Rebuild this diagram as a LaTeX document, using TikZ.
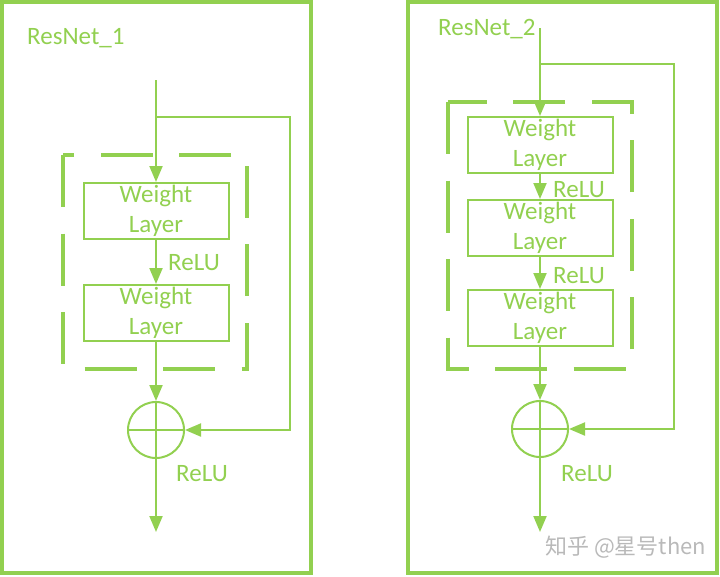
\documentclass[tikz,border=0pt]{standalone}
\usepackage{fontspec}
\setmainfont{Carlito}
\newfontfamily\cjkfont{Noto Sans CJK SC}
\usetikzlibrary{arrows.meta}
\definecolor{netgreen}{RGB}{146,208,80}

\begin{document}
\begin{tikzpicture}[x=1pt,y=-1pt,
  every node/.style={text=netgreen,font=\fontsize{25}{30}\selectfont}]
  \useasboundingbox (0,0) rectangle (720,576);

  \tikzstyle{FrameStyle}=[draw=netgreen,line width=3.5pt]
  \tikzstyle{GroupStyle}=[draw=netgreen,line width=3.5pt,dash pattern=on 52pt off 26.5pt]
  \tikzstyle{LayerStyle}=[draw=netgreen,line width=2pt,minimum width=145pt,
                          minimum height=56pt,inner sep=0pt,align=center]
  \tikzstyle{SumStyle}=[circle,draw=netgreen,line width=2pt,minimum size=56pt,inner sep=0pt]
  \tikzstyle{EdgeStyle}=[draw=netgreen,line width=2pt,-{Triangle[length=16pt,width=13pt]}]
  \tikzstyle{CrossStyle}=[draw=netgreen,line width=1.5pt]
  \tikzstyle{LabelStyle}=[anchor=base west,inner sep=0pt]

  \draw[FrameStyle] (2,2) rectangle (311,573);
  \draw[FrameStyle] (408,2) rectangle (717,573);

  \node[LabelStyle] (title1) at (27,44) {ResNet\_1};
  \node[LabelStyle] (title2) at (438,35) {ResNet\_2};

  \draw[GroupStyle] (63,155) -- (63,369) -- (247,369) -- (247,155) -- cycle;
  \draw[GroupStyle] (448,102) -- (448,369) -- (632,369) -- (632,102) -- cycle;

  \node[LayerStyle] (w11) at (156,211) {Weight\\Layer};
  \node[LayerStyle] (w12) at (156,313) {Weight\\Layer};
  \node[SumStyle] (s1) at (156,430) {};

  \node[LayerStyle] (w21) at (540,145) {Weight\\Layer};
  \node[LayerStyle] (w22) at (540,228) {Weight\\Layer};
  \node[LayerStyle] (w23) at (540,318) {Weight\\Layer};
  \node[SumStyle] (s2) at (540,429) {};

  \draw[CrossStyle] (s1.north) -- (s1.south) (s1.west) -- (s1.east);
  \draw[CrossStyle] (s2.north) -- (s2.south) (s2.west) -- (s2.east);

  \node[LabelStyle] (relu11) at (168,270) {ReLU};
  \node[LabelStyle] (relu12) at (176,481) {ReLU};
  \node[LabelStyle] (relu21) at (553,197) {ReLU};
  \node[LabelStyle] (relu22) at (553,283) {ReLU};
  \node[LabelStyle] (relu23) at (561,481) {ReLU};

  \coordinate (in1) at (156,80);
  \coordinate (split1) at (156,117);
  \coordinate (turn1) at (290,117);
  \coordinate (out1) at (156,532);

  \coordinate (in2) at (540,28);
  \coordinate (split2) at (540,64);
  \coordinate (turn2) at (674,64);
  \coordinate (out2) at (540,532);

  \draw[EdgeStyle] (in1) -- (w11);
  \draw[EdgeStyle] (w11) -- (w12);
  \draw[EdgeStyle] (w12) -- (s1);
  \draw[EdgeStyle] (s1) -- (out1);
  \draw[EdgeStyle] (split1) -- (turn1) |- (s1);

  \draw[EdgeStyle] (in2) -- (w21);
  \draw[EdgeStyle] (w21) -- (w22);
  \draw[EdgeStyle] (w22) -- (w23);
  \draw[EdgeStyle] (w23) -- (s2);
  \draw[EdgeStyle] (s2) -- (out2);
  \draw[EdgeStyle] (split2) -- (turn2) |- (s2);

  \node[LabelStyle,text=gray!55,font=\cjkfont\fontsize{22}{26}\selectfont] (mark) at (545,554) {知乎 @星号then};
\end{tikzpicture}
\end{document}
